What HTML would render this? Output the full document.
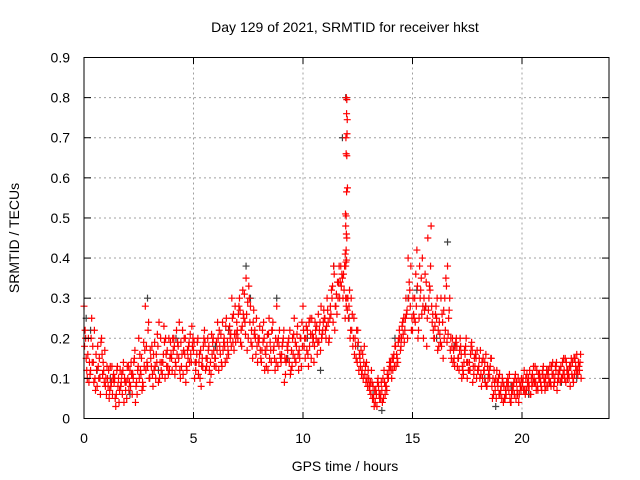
<!DOCTYPE html>
<html><head><meta charset="utf-8"><style>
body{margin:0;background:#fff}
svg{display:block;font-family:"Liberation Sans",sans-serif}
</style></head><body>
<svg id="chart" width="640" height="480">
<text x="345" y="32" font-size="14" text-anchor="middle">Day 129 of 2021, SRMTID for receiver hkst</text>
<text x="345" y="471" font-size="14" text-anchor="middle">GPS time / hours</text>
<text transform="translate(19,238) rotate(-90)" font-size="14" text-anchor="middle">SRMTID / TECUs</text>
<g id="grid"></g><g id="grey"></g><g id="red"></g>
<rect x="84" y="57.5" width="525" height="361" fill="none" stroke="#000" stroke-width="1"/>
<g id="ticks"></g>
</svg>
<script>
const xTicks=[0,5,10,15,20];
const yTicks=[0,0.1,0.2,0.3,0.4,0.5,0.6,0.7,0.8,0.9];
const yTickLabels=["0","0.1","0.2","0.3","0.4","0.5","0.6","0.7","0.8","0.9"];
const seriesStarts=[0,0.05,0.025,0.075], seriesStep=0.1;
const seriesA=[0.28,0.15,0.2,0.12,0.18,0.1,0.08,0.15,0.2,0.12,
0.1,0.08,0.13,0.06,0.1,0.12,0.04,0.09,0.14,0.07,
0.1,0.12,0.06,0.15,0.09,0.2,0.11,0.08,0.28,0.13,
0.1,0.18,0.12,0.16,0.09,0.2,0.14,0.1,0.17,0.12,
0.15,0.2,0.13,0.18,0.1,0.22,0.16,0.12,0.19,0.14,
0.17,0.12,0.2,0.1,0.15,0.22,0.13,0.18,0.11,0.2,
0.15,0.24,0.18,0.13,0.2,0.25,0.16,0.21,0.19,0.28,
0.22,0.3,0.18,0.25,0.35,0.2,0.28,0.15,0.22,0.18,
0.2,0.14,0.24,0.16,0.12,0.19,0.22,0.15,0.28,0.18,
0.14,0.2,0.11,0.17,0.22,0.13,0.25,0.18,0.12,0.2,
0.28,0.15,0.22,0.18,0.25,0.14,0.2,0.26,0.17,0.22,
0.25,0.3,0.2,0.32,0.38,0.28,0.3,0.34,0.35,0.38,
0.3,0.28,0.3,0.2,0.18,0.22,0.15,0.12,0.18,0.14,
0.1,0.06,0.08,0.04,0.09,0.05,0.07,0.12,0.08,0.1,
0.14,0.12,0.18,0.15,0.22,0.2,0.25,0.3,0.4,0.28,
0.22,0.3,0.42,0.25,0.35,0.2,0.28,0.45,0.32,0.24,
0.2,0.25,0.18,0.3,0.15,0.22,0.38,0.3,0.18,0.15,
0.2,0.15,0.18,0.12,0.16,0.1,0.14,0.19,0.11,0.15,
0.12,0.17,0.1,0.14,0.08,0.12,0.15,0.06,0.1,0.08,
0.06,0.1,0.05,0.09,0.07,0.04,0.08,0.11,0.06,0.09,
0.08,0.12,0.07,0.1,0.06,0.09,0.13,0.08,0.11,0.07,
0.1,0.08,0.12,0.09,0.14,0.1,0.07,0.12,0.1,0.15,
0.09,0.12,0.08,0.14,0.11,0.16,0.13,0.1];
const seriesB=[0.22,0.1,0.14,0.25,0.09,0.16,0.13,0.06,0.11,0.17,
0.13,0.05,0.09,0.11,0.03,0.08,0.12,0.06,0.1,0.05,
0.07,0.14,0.1,0.04,0.12,0.16,0.07,0.13,0.18,0.24,
0.15,0.08,0.13,0.21,0.1,0.14,0.23,0.16,0.11,0.19,
0.2,0.11,0.16,0.24,0.13,0.17,0.09,0.15,0.21,0.18,
0.1,0.16,0.14,0.08,0.18,0.12,0.2,0.09,0.16,0.13,
0.19,0.12,0.21,0.17,0.14,0.19,0.23,0.3,0.17,0.21,
0.26,0.19,0.32,0.24,0.17,0.3,0.22,0.27,0.16,0.2,
0.17,0.22,0.12,0.18,0.25,0.14,0.17,0.2,0.13,0.16,
0.18,0.09,0.15,0.2,0.12,0.16,0.19,0.23,0.15,0.24,
0.18,0.23,0.13,0.21,0.19,0.24,0.16,0.22,0.2,0.27,
0.2,0.24,0.28,0.33,0.22,0.26,0.38,0.33,0.36,0.3,
0.3,0.2,0.26,0.16,0.22,0.12,0.17,0.1,0.13,0.08,
0.07,0.09,0.03,0.06,0.08,0.05,0.1,0.06,0.11,0.14,
0.1,0.16,0.13,0.19,0.17,0.24,0.22,0.27,0.34,0.22,
0.26,0.36,0.2,0.3,0.4,0.27,0.18,0.3,0.48,0.22,
0.26,0.17,0.21,0.26,0.2,0.33,0.25,0.2,0.14,0.18,
0.13,0.17,0.1,0.14,0.2,0.12,0.16,0.09,0.13,0.17,
0.15,0.08,0.12,0.16,0.1,0.13,0.05,0.09,0.12,0.06,
0.08,0.04,0.07,0.1,0.05,0.08,0.06,0.09,0.04,0.07,
0.1,0.06,0.09,0.12,0.08,0.1,0.07,0.11,0.09,0.12,
0.07,0.11,0.09,0.13,0.08,0.12,0.11,0.09,0.14,0.1,
0.12,0.1,0.15,0.09,0.13,0.11,0.14];
const seriesC=[0.18,0.12,0.09,0.2,0.14,0.07,0.18,0.1,0.16,0.09,
0.06,0.12,0.08,0.1,0.05,0.13,0.07,0.11,0.04,0.09,
0.13,0.08,0.11,0.17,0.06,0.1,0.15,0.19,0.12,0.22,
0.17,0.11,0.19,0.14,0.24,0.12,0.16,0.2,0.13,0.15,
0.12,0.18,0.22,0.15,0.19,0.11,0.2,0.17,0.14,0.23,
0.19,0.14,0.11,0.17,0.13,0.19,0.15,0.12,0.21,0.17,
0.13,0.2,0.16,0.24,0.18,0.15,0.22,0.18,0.26,0.19,
0.2,0.27,0.23,0.31,0.26,0.33,0.19,0.24,0.2,0.14,
0.23,0.17,0.2,0.13,0.21,0.17,0.24,0.12,0.19,0.22,
0.16,0.22,0.14,0.19,0.11,0.2,0.15,0.21,0.17,0.13,
0.22,0.2,0.16,0.25,0.21,0.18,0.23,0.19,0.28,0.24,
0.22,0.27,0.25,0.3,0.36,0.31,0.34,0.38,0.3,0.25,
0.27,0.32,0.22,0.25,0.15,0.19,0.13,0.16,0.11,0.1,
0.08,0.12,0.05,0.07,0.1,0.06,0.04,0.09,0.07,0.12,
0.12,0.15,0.18,0.14,0.2,0.23,0.19,0.26,0.3,0.38,
0.3,0.24,0.33,0.38,0.26,0.3,0.34,0.27,0.38,0.26,
0.23,0.3,0.24,0.18,0.27,0.35,0.21,0.17,0.2,0.13,
0.18,0.12,0.16,0.11,0.18,0.14,0.12,0.17,0.15,0.1,
0.13,0.11,0.15,0.09,0.13,0.1,0.08,0.12,0.05,0.1,
0.07,0.09,0.05,0.08,0.11,0.06,0.09,0.05,0.1,0.08,
0.09,0.07,0.11,0.08,0.1,0.13,0.09,0.07,0.1,0.11,
0.09,0.12,0.1,0.08,0.11,0.13,0.09,0.12,0.1,0.12,
0.14,0.11,0.13,0.1,0.15,0.12,0.12];
const seriesD=[0.2,0.16,0.11,0.14,0.22,0.12,0.1,0.19,0.14,0.08,
0.1,0.07,0.13,0.09,0.06,0.1,0.08,0.12,0.09,0.13,
0.09,0.11,0.14,0.08,0.13,0.12,0.09,0.17,0.14,0.1,
0.13,0.16,0.1,0.18,0.14,0.11,0.19,0.13,0.2,0.16,
0.17,0.14,0.19,0.12,0.16,0.2,0.13,0.18,0.16,0.2,
0.14,0.19,0.16,0.13,0.2,0.15,0.17,0.14,0.19,0.15,
0.17,0.22,0.14,0.19,0.23,0.17,0.2,0.25,0.21,0.24,
0.28,0.22,0.26,0.21,0.29,0.24,0.18,0.21,0.25,0.19,
0.15,0.19,0.17,0.21,0.15,0.22,0.18,0.14,0.2,0.15,
0.19,0.15,0.18,0.14,0.17,0.21,0.14,0.16,0.2,0.18,
0.2,0.17,0.24,0.15,0.2,0.22,0.19,0.24,0.21,0.25,
0.23,0.19,0.26,0.24,0.28,0.34,0.3,0.36,0.32,0.28,
0.25,0.22,0.18,0.2,0.14,0.16,0.11,0.14,0.09,0.12,
0.09,0.05,0.07,0.03,0.06,0.09,0.05,0.08,0.1,0.13,
0.15,0.13,0.16,0.2,0.18,0.21,0.25,0.2,0.32,0.25,
0.25,0.28,0.22,0.32,0.28,0.36,0.25,0.33,0.28,0.2,
0.28,0.22,0.19,0.24,0.3,0.19,0.27,0.15,0.17,0.19,
0.15,0.2,0.13,0.17,0.14,0.12,0.18,0.13,0.16,0.12,
0.1,0.14,0.12,0.08,0.11,0.15,0.1,0.07,0.09,0.11,
0.05,0.08,0.06,0.09,0.04,0.07,0.1,0.07,0.06,0.1,
0.07,0.1,0.08,0.06,0.11,0.09,0.12,0.1,0.08,0.13,
0.1,0.08,0.13,0.11,0.09,0.14,0.1,0.13,0.11,0.15,
0.1,0.13,0.11,0.15,0.12,0.14,0.16];
const peakTimes=[11.98,12.0,11.99,12.02,12.01,11.96,11.97,12.0,12.03,11.99,11.94,11.97,11.98,12.0,11.95,11.97,11.93,11.99,11.96,11.95];
const peakValues=[0.8,0.795,0.76,0.745,0.71,0.7,0.66,0.655,0.575,0.565,0.51,0.505,0.46,0.45,0.48,0.42,0.41,0.395,0.39,0.38];
const greyTimes=[0.1,0.3,0.6,1.2,2.1,2.9,3.4,4.2,5.1,6.0,6.6,7.4,7.6,8.8,9.3,10.2,10.8,11.4,11.8,11.95,12.1,12.5,13.2,13.6,14.2,14.8,15.2,15.6,16.1,16.6,16.9,17.5,18.3,18.8,19.5,20.3,21.2,21.8,22.5];
const greyValues=[0.25,0.22,0.12,0.1,0.06,0.3,0.12,0.2,0.14,0.18,0.22,0.38,0.3,0.3,0.15,0.2,0.12,0.38,0.7,0.8,0.25,0.18,0.06,0.02,0.2,0.3,0.32,0.28,0.2,0.44,0.18,0.14,0.1,0.03,0.08,0.06,0.12,0.09,0.1];

const X=v=>84+v*21.9, Y=v=>418.5-v*401.1;
const NS="http://www.w3.org/2000/svg";
function mk(tag,attrs,parent){const e=document.createElementNS(NS,tag);for(const k in attrs)e.setAttribute(k,attrs[k]);parent.appendChild(e);return e;}
const grid=document.getElementById('grid'),ticks=document.getElementById('ticks');
xTicks.forEach(t=>{
  if(t>0){const g=mk('line',{x1:X(t),x2:X(t),y1:57.5,y2:418.5,stroke:'#a0a0a0','stroke-dasharray':'2,3'},grid);
  
  }
  mk('line',{x1:X(t),x2:X(t),y1:418.5,y2:412,stroke:'#000'},ticks);
  mk('line',{x1:X(t),x2:X(t),y1:57.5,y2:64,stroke:'#000'},ticks);
  const l=mk('text',{x:X(t),y:443,'font-size':14,'text-anchor':'middle'},ticks);l.textContent=t;
  
  
});
yTicks.forEach((t,i)=>{
  if(t>0&&t<0.9){const g=mk('line',{x1:84,x2:609,y1:Y(t),y2:Y(t),stroke:'#a0a0a0','stroke-dasharray':'2,3'},grid);
  
  }
  mk('line',{x1:84,x2:91,y1:Y(t),y2:Y(t),stroke:'#000'},ticks);
  mk('line',{x1:609,x2:602,y1:Y(t),y2:Y(t),stroke:'#000'},ticks);
  const l=mk('text',{x:70,y:Y(t)+5,'font-size':14,'text-anchor':'end'},ticks);l.textContent=yTickLabels[i];
  
  
});
function plus(x,y,col,g){return mk('path',{d:`M${x-3.5},${y}h7M${x},${y-3.5}v7`,stroke:col,'stroke-width':1.2,fill:'none'},g);}
const greyG=document.getElementById('grey'),redG=document.getElementById('red');
greyTimes.forEach((t,i)=>{const p=plus(X(t),Y(greyValues[i]),'#404040',greyG);
  
  });
[seriesA,seriesB,seriesC,seriesD].forEach((s,k)=>{
  s.forEach((v,i)=>{const p=plus(X(seriesStarts[k]+i*seriesStep),Y(v),'#ff0000',redG);
    
    });
});
peakTimes.forEach((t,i)=>{const p=plus(X(t),Y(peakValues[i]),'#ff0000',redG);
  
  });
</script>
</body></html>
